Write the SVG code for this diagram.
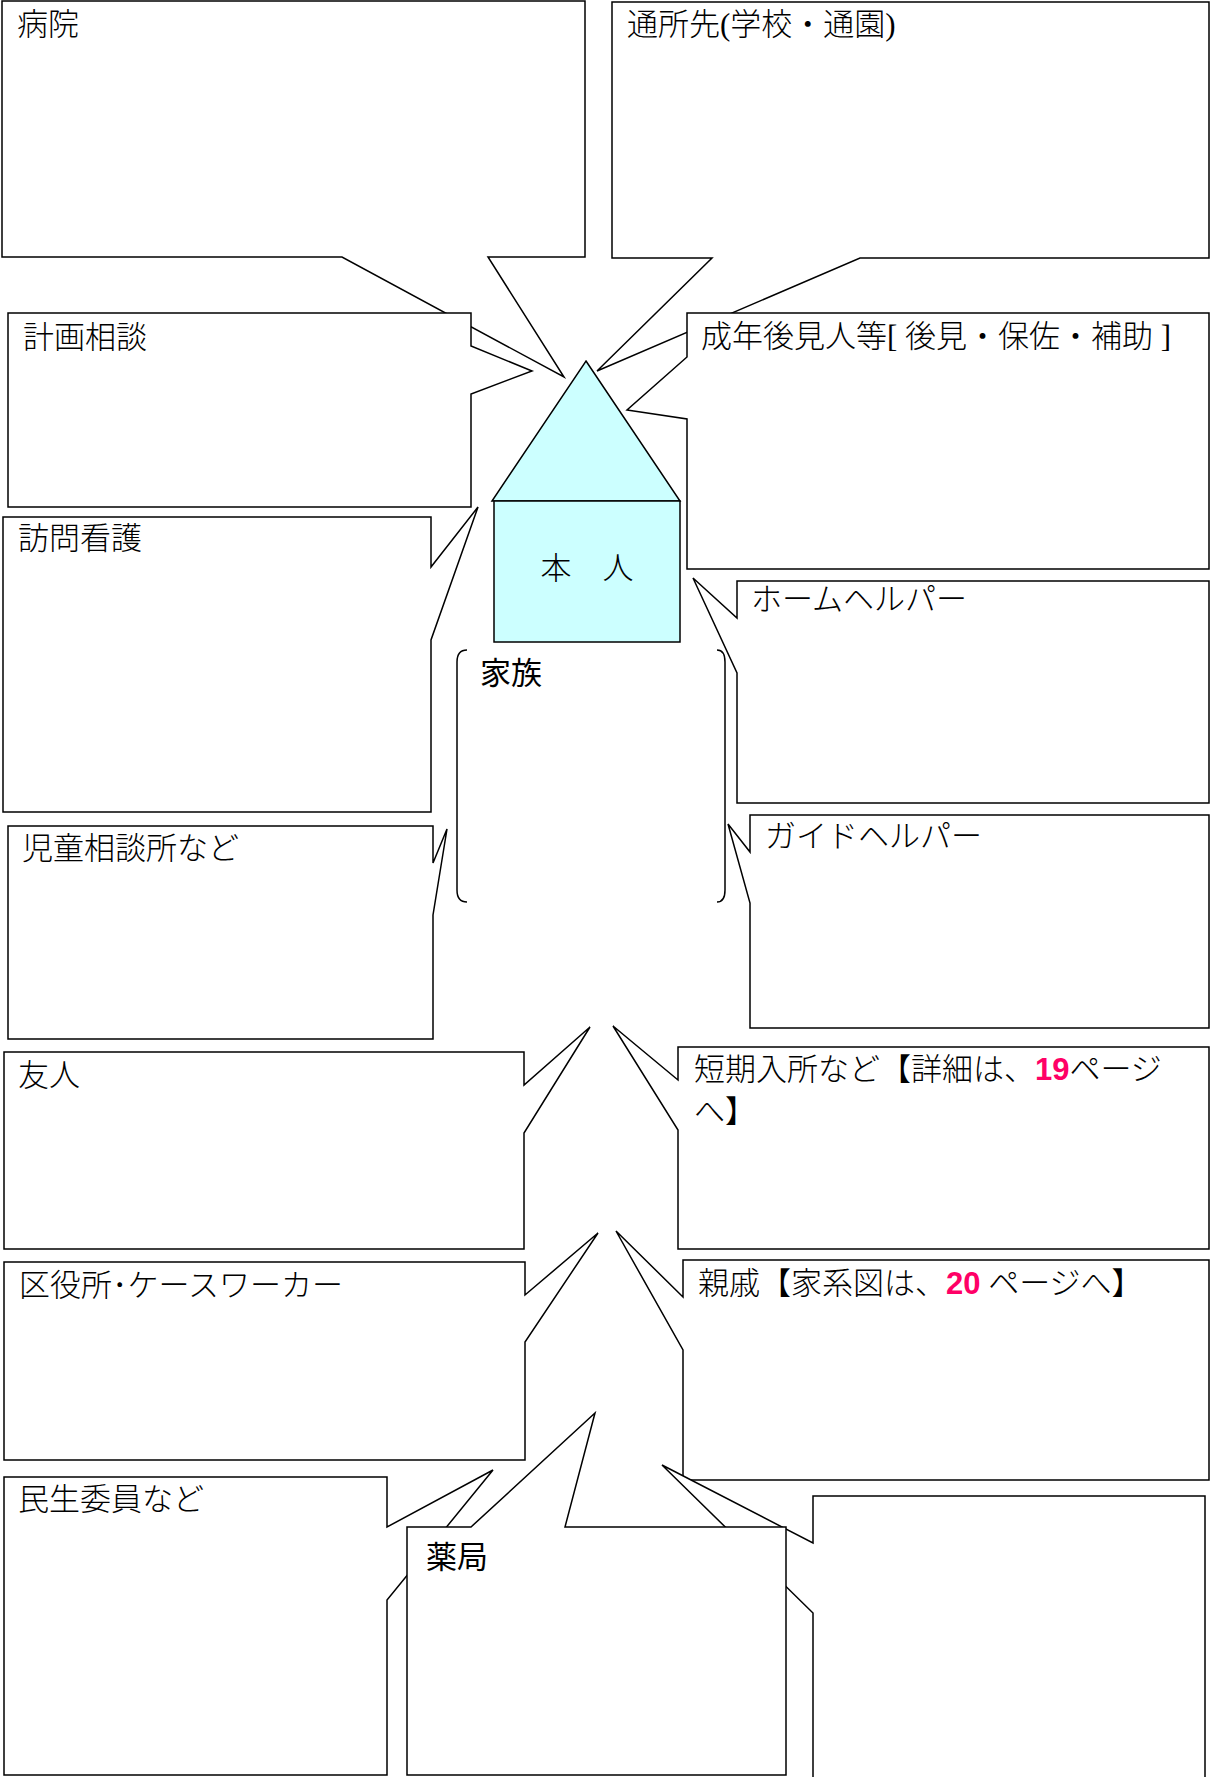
<svg xmlns="http://www.w3.org/2000/svg" width="1210" height="1777" viewBox="0 0 1210 1777">
<style>
.box{fill:#fff;stroke:#000;stroke-width:1.5;stroke-linejoin:miter}
.house{fill:#ccffff;stroke:#000;stroke-width:1.5}
.br{fill:none;stroke:#000;stroke-width:1.5}
.t{font-family:"Liberation Serif","Noto Sans CJK JP",serif;font-size:31px;font-weight:300;fill:#000}
.g{font-family:"Noto Sans CJK JP",sans-serif;font-size:31px;fill:#000}
.num{font-family:"Liberation Sans",sans-serif;font-weight:bold;fill:#ff0066}
</style>
<rect width="1210" height="1777" fill="#fff"/>
<g id="connectors"/>
<g id="n-hospital">
<path class="box" d="M2,1 H585 V257 H488 L564,377 L342,257 H2 Z"/>
<text class="t" x="17" y="35">病院</text>
</g>
<g id="n-school">
<path class="box" d="M612,2 H1209 V258 H860 L597,371 L712,258 H612 Z"/>
<text class="t" x="627" y="35">通所先(学校・通園)</text>
</g>
<g id="n-plan">
<path class="box" d="M8,313 H471 V346 L532,371 L471,394 V507 H8 Z"/>
<text class="t" x="23" y="348">計画相談</text>
</g>
<g id="n-guardian">
<path class="box" d="M687,313 H1209 V569 H687 V419 L627,410 L687,357 Z"/>
<text class="t" x="701" y="347">成年後見人等[ 後見・保佐・補助 ]</text>
</g>
<g id="n-self">
<polygon class="house" points="586,361 680,501 492,501"/>
<rect class="house" x="494" y="501" width="186" height="141"/>
<text class="t" x="587" y="579" text-anchor="middle">本　人</text>
</g>
<g id="n-nursing">
<path class="box" d="M3,517 H431 V567 L478,507 L431,640 V812 H3 Z"/>
<text class="t" x="18" y="549">訪問看護</text>
</g>
<g id="n-family">
<path class="br" d="M467,650 Q457,650 457,662 V890 Q457,902 467,902"/>
<path class="br" d="M717,650 Q725,650 725,662 V890 Q725,902 717,902"/>
<text class="g" x="480" y="684">家族</text>
</g>
<g id="n-homehelper">
<path class="box" d="M737,581 H1209 V803 H737 V673 L693,578 L737,618 Z"/>
<text class="t" x="751" y="610">ホームヘルパー</text>
</g>
<g id="n-child">
<path class="box" d="M8,826 H433 V863 L447,829 L433,915 V1039 H8 Z"/>
<text class="t" x="22" y="859">児童相談所など</text>
</g>
<g id="n-guidehelper">
<path class="box" d="M750,815 H1209 V1028 H750 V903 L728,824 L750,852 Z"/>
<text class="t" x="765" y="847">ガイドヘルパー</text>
</g>
<g id="n-friend">
<path class="box" d="M4,1052 H524 V1085 L590,1027 L524,1133 V1249 H4 Z"/>
<text class="t" x="18" y="1086">友人</text>
</g>
<g id="n-shortstay">
<path class="box" d="M678,1047 H1209 V1249 H678 V1130 L613,1026 L678,1080 Z"/>
<text class="t" x="694" y="1080">短期入所など【詳細は、<tspan class="num">19</tspan>ページ</text>
<text class="t" x="694" y="1122">へ】</text>
</g>
<g id="n-ward">
<path class="box" d="M4,1262 H525 V1295 L598,1233 L525,1342 V1460 H4 Z"/>
<text class="t" x="19" y="1296">区役所･ケースワーカー</text>
</g>
<g id="n-relatives">
<path class="box" d="M683,1260 H1209 V1480 H683 V1350 L616,1231 L683,1297 Z"/>
<text class="t" x="698" y="1294">親戚【家系図は、<tspan class="num">20</tspan> ページへ】</text>
</g>
<g id="n-welfare">
<path class="box" d="M4,1477 H387 V1527 L493,1470 L387,1600 V1775 H4 Z"/>
<text class="t" x="18" y="1510">民生委員など</text>
</g>
<g id="n-blank">
<path class="box" d="M813,1496 H1205 V1790 H813 V1613 L662,1465 L813,1543 Z"/>
</g>
<g id="n-pharmacy">
<path class="box" d="M407,1527 H471 L595,1413 L565,1527 H786 V1775 H407 Z"/>
<text class="g" x="426" y="1568">薬局</text>
</g>
</svg>
